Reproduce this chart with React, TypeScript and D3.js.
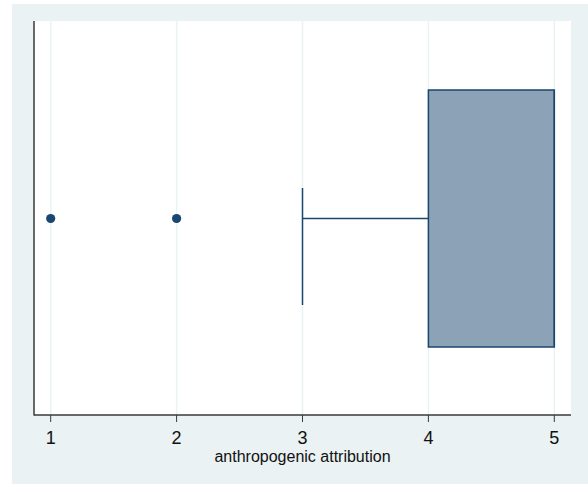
import React from "react";
import * as d3 from "d3";

const ticks = [1, 2, 3, 4, 5];
const boxStats = { whiskerLow: 3, q1: 4, median: 5, q3: 5, whiskerHigh: 5 };
const outliers = [1, 2];
const axisTitle = "anthropogenic attribution";

const W = 588;
const H = 484;
const plot = { left: 34, right: 571, top: 21, bottom: 415 };

export default function App() {
  const x = d3.scaleLinear().domain([1, 5]).range([50.7, 554.3]);
  const boxTop = 90;
  const boxBottom = 347;
  const mid = 218.5;
  const capTop = 188;
  const capBottom = 305;
  const navy = "#1a476f";
  return (
    <div style={{ position: "fixed", left: 0, top: 0 }}>
      <svg width={W} height={H} style={{ display: "block" }} fontFamily="'Liberation Sans', Arial, sans-serif">
        <rect x={0} y={0} width={W} height={H} fill="#ffffff" />
        <rect x={12} y={4} width={W - 12} height={H - 4} fill="#eaf2f3" />
        <rect x={plot.left} y={plot.top} width={plot.right - plot.left} height={plot.bottom - plot.top} fill="#ffffff" />
        {ticks.map((t) => (
          <line key={"g" + t} x1={x(t)} x2={x(t)} y1={plot.top} y2={plot.bottom} stroke="#eaf2f3" strokeWidth={1.5} />
        ))}
        {/* whisker */}
        <line x1={x(boxStats.whiskerLow)} x2={x(boxStats.q1)} y1={mid} y2={mid} stroke={navy} strokeWidth={1.5} />
        <line x1={x(boxStats.whiskerLow)} x2={x(boxStats.whiskerLow)} y1={capTop} y2={capBottom} stroke={navy} strokeWidth={1.5} />
        {/* box */}
        <rect
          x={x(boxStats.q1)}
          y={boxTop}
          width={x(boxStats.q3) - x(boxStats.q1)}
          height={boxBottom - boxTop}
          fill="#8ca2b6"
          stroke={navy}
          strokeWidth={1.5}
        />
        <line x1={x(boxStats.median)} x2={x(boxStats.median)} y1={boxTop} y2={boxBottom} stroke={navy} strokeWidth={1.5} />
        {outliers.map((o) => (
          <circle key={"o" + o} cx={x(o)} cy={mid} r={4.6} fill={navy} />
        ))}
        {/* axes */}
        <line x1={plot.left} x2={plot.left} y1={plot.top} y2={plot.bottom + 0.5} stroke="#3a3a3a" strokeWidth={1.5} />
        <line x1={plot.left} x2={plot.right} y1={plot.bottom} y2={plot.bottom} stroke="#3a3a3a" strokeWidth={1.5} />
        {ticks.map((t) => (
          <g key={"t" + t}>
            <line x1={x(t)} x2={x(t)} y1={plot.bottom} y2={plot.bottom + 7} stroke="#3a3a3a" strokeWidth={1} />
            <text x={x(t)} y={444} textAnchor="middle" fontSize={18} fill="#111">
              {t}
            </text>
          </g>
        ))}
        <text x={(plot.left + plot.right) / 2} y={462} textAnchor="middle" fontSize={16} fill="#111">
          {axisTitle}
        </text>
      </svg>
    </div>
  );
}
